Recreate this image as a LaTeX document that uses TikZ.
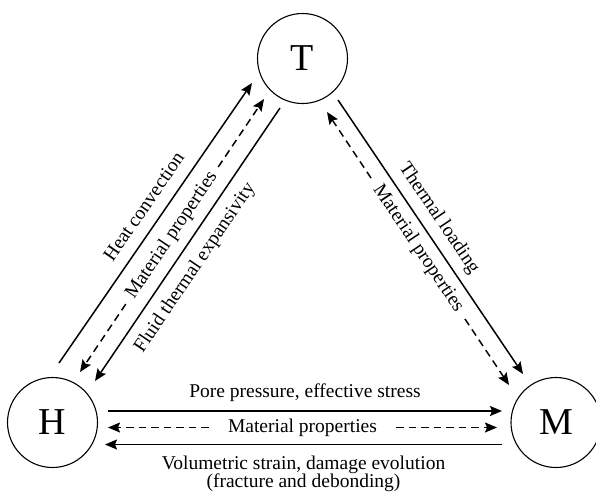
\documentclass[tikz,border=0pt]{standalone}
\usepackage{fontspec}
\setmainfont{Liberation Serif}
\usetikzlibrary{arrows.meta,calc}
\begin{document}
\begin{tikzpicture}[x=1pt,y=-1pt,
  state/.style={circle,draw,line width=1.1pt,minimum size=90pt,inner sep=0pt,font=\fontsize{38}{40}\selectfont},
  link/.style={line width=1.5pt},
  tip/.style={-{Stealth[length=12pt,width=10pt,inset=2pt]}},
  dashseg/.style={dash pattern=on 7.5pt off 5pt},
  lbl/.style={font=\fontsize{19.5}{18}\selectfont, inner sep=0pt, text height=14pt, text depth=5pt},
]
\useasboundingbox (0,0) rectangle (596,496);
% states
\node[state] (T) at (302.5,58.5) {T};
\node[state] (H) at (52.5,422.5) {H};
\node[state] (M) at (556,422.5) {M};
% connector end points
\coordinate (hcA) at (59,363);   \coordinate (hcB) at (252,83);
\coordinate (mpA) at (80,372);   \coordinate (mpB) at (264,99);
\coordinate (ftA) at (95,381);   \coordinate (ftB) at (280,108);
\coordinate (tlA) at (338,100);  \coordinate (tlB) at (523,374);
\coordinate (mrA) at (327,112);  \coordinate (mrB) at (509,385);
\coordinate (ppA) at (108,411);  \coordinate (ppB) at (502,411);
\coordinate (mhA) at (108,427.5);\coordinate (mhB) at (497,427.5);
\coordinate (vsA) at (105,444.5);\coordinate (vsB) at (502,444.5);
% H -- T
\draw[link,tip] (hcA) -- node[lbl,sloped,pos=0.52,above=7pt] {Heat convection} (hcB);
\path (mpA) -- node[lbl,sloped,midway,inner xsep=8pt] (mpL) {Material properties} (mpB);
\draw[link,dashseg,tip] (mpL.west) -- (mpA);
\draw[link,dashseg,tip] (mpL.east) -- (mpB);
\draw[link,tip] (ftB) -- (ftA);
\path (ftA) -- node[lbl,sloped,pos=0.454,below=10pt] {Fluid thermal expansivity} (ftB);
% T -- M
\draw[link,tip] (tlA) -- node[lbl,sloped,pos=0.467,above=7pt] {Thermal loading} (tlB);
\path (mrA) -- node[lbl,sloped,midway,inner xsep=10pt] (mpR) {Material properties} (mrB);
\draw[link,dashseg,tip] (mpR.west) -- (mrA);
\draw[link,dashseg,tip] (mpR.east) -- (mrB);
% H -- M
\draw[link,tip] (ppA) -- node[lbl,midway,above=7.5pt] {Pore pressure, effective stress} (ppB);
\path (mhA) -- node[lbl,midway,inner xsep=19pt] (mpH) {Material properties} (mhB);
\draw[link,dashseg,tip] (mpH.west) -- (mhA);
\draw[link,dashseg,tip] (mpH.east) -- (mhB);
\draw[link,tip] (vsB) -- node[lbl,midway,below=10.4pt] (vs) {Volumetric strain, damage evolution} (vsA);
\node[lbl,anchor=base] (fd) at ([yshift=-17.5pt]vs.base) {(fracture and debonding)};
\end{tikzpicture}
\end{document}
